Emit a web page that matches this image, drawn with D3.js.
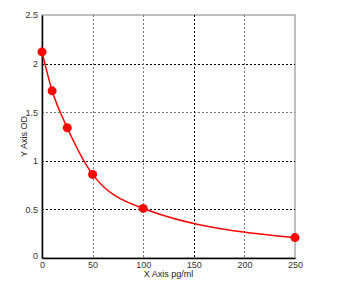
<!DOCTYPE html>
<html><head><meta charset="utf-8">
<script src="https://cdn.jsdelivr.net/npm/d3@7"></script>
<style>body{margin:0;background:#fff}</style>
</head><body>
<svg id="c" width="345" height="284"></svg>
<script>
const xValues = [0, 10, 25, 50, 100, 250];
const yValues = [2.12, 1.72, 1.34, 0.86, 0.51, 0.21];
const xTicks = [0, 50, 100, 150, 200, 250];
const yTicks = [0, 0.5, 1, 1.5, 2, 2.5];
const xTitle = "X Axis pg/ml";
const yTitle = "Y Axis OD";

const svg = d3.select("#c");
const L = 42, R = 295, T = 15, B = 258;
const x = d3.scaleLinear().domain([0, 250]).range([L, R]);
const y = d3.scaleLinear().domain([0, 2.5]).range([B, T]);

// frame
svg.append("rect").attr("x", L).attr("y", T).attr("width", R - L).attr("height", B - T)
  .attr("fill", "none").attr("stroke", "#808080").attr("stroke-width", 1);

// grid
const hBlack = new Set([0.5, 1, 2]);
svg.append("g").selectAll("line").data(yTicks.filter(d => d > 0 && d < 2.5)).join("line")
  .attr("x1", L).attr("x2", R).attr("y1", d => Math.round(y(d)) + 0.5).attr("y2", d => Math.round(y(d)) + 0.5)
  .attr("stroke", d => hBlack.has(d) ? "#000" : "#777").attr("stroke-dasharray", "2,2");
const vBlack = new Set([150]);
svg.append("g").selectAll("line").data(xTicks.filter(d => d > 0 && d < 250)).join("line")
  .attr("y1", T).attr("y2", B).attr("x1", d => Math.round(x(d)) + 0.5).attr("x2", d => Math.round(x(d)) + 0.5)
  .attr("stroke", d => vBlack.has(d) ? "#000" : "#777").attr("stroke-dasharray", "2,2");

// axes
const xa = svg.append("g").attr("transform", `translate(0,${B})`)
  .call(d3.axisBottom(x).tickValues(xTicks).tickSize(0).tickPadding(4).tickFormat(d3.format("")));
xa.select(".domain").attr("stroke", "#000").attr("stroke-width", 1.5);
const ya = svg.append("g").attr("transform", `translate(${L},0)`)
  .call(d3.axisLeft(y).tickValues(yTicks).tickSize(0).tickPadding(4).tickFormat(d3.format("")));
ya.select(".domain").attr("stroke", "#000").attr("stroke-width", 1.5);
svg.selectAll(".tick text").attr("font-family", "Liberation Sans, Arial, sans-serif")
  .attr("font-size", 9).attr("fill", "#333");
ya.selectAll(".tick text").filter(d => d === 0).attr("dy", "0.1em");

// titles
svg.append("text").attr("x", (L + R) / 2).attr("y", 277).attr("text-anchor", "middle")
  .attr("font-family", "Liberation Sans, Arial, sans-serif").attr("font-size", 9).attr("fill", "#222").text(xTitle);
svg.append("text").attr("transform", `translate(27,${(T + B) / 2}) rotate(-90)`).attr("text-anchor", "middle")
  .attr("font-family", "Liberation Sans, Arial, sans-serif").attr("font-size", 9).attr("fill", "#222").text(yTitle);

// curve
const pts = xValues.map((v, i) => [v, yValues[i]]);
svg.append("path").datum(pts)
  .attr("d", d3.line().x(d => x(d[0])).y(d => y(d[1])).curve(d3.curveMonotoneX))
  .attr("fill", "none").attr("stroke", "#ff0000").attr("stroke-width", 1.5);
svg.append("g").selectAll("circle").data(pts).join("circle")
  .attr("cx", d => x(d[0])).attr("cy", d => y(d[1])).attr("r", 4.5).attr("fill", "#ff0000");
</script>
</body></html>
